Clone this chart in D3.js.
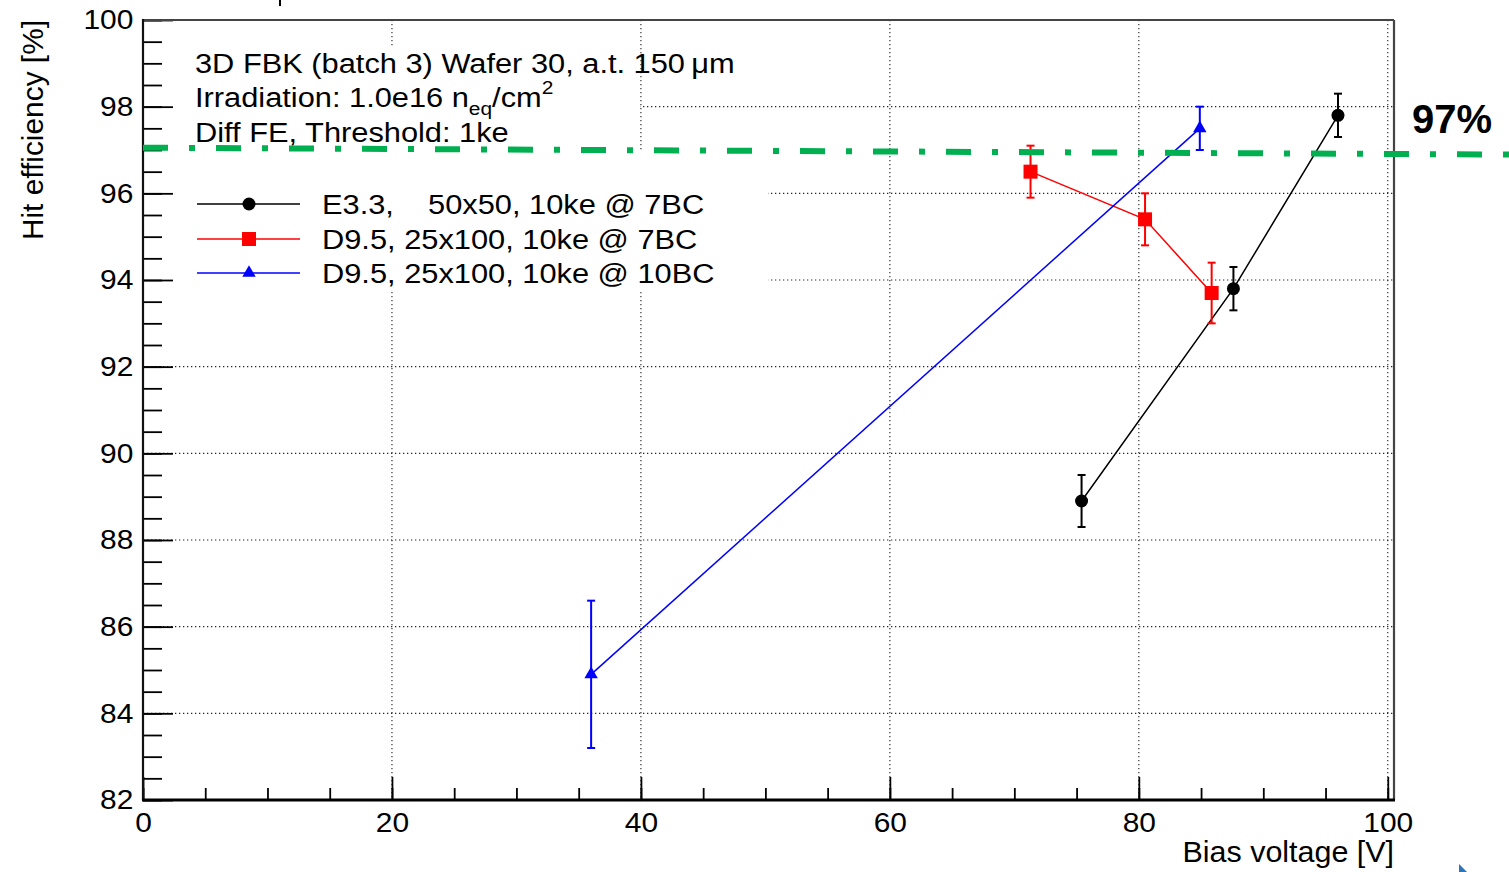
<!DOCTYPE html>
<html>
<head>
<meta charset="utf-8">
<script src="https://cdn.jsdelivr.net/npm/d3@7"></script>
<style>
  html, body { margin: 0; padding: 0; background: #fff; }
  svg { display: block; }
  text { font-family: "Liberation Sans", Arial, Helvetica, sans-serif; fill: #000; }
</style>
</head>
<body>
<svg id="chart" width="1509" height="872"></svg>
<script>
// ---- data: hit efficiency vs bias voltage ----
const biasE33   = [75.4, 87.6, 96.0];
const effE33    = [88.9, 93.8, 97.8];
const errE33    = [0.6, 0.5, 0.5];

const biasD95a  = [71.3, 80.5, 85.85];
const effD95a   = [96.5, 95.4, 93.7];
const errD95a   = [0.6, 0.6, 0.7];

const biasD95b  = [36.0, 84.9];
const effD95b   = [84.9, 97.5];
const errD95b   = [1.7, 0.5];

const seriesLabels = [
  "E3.3,    50x50, 10ke @ 7BC",
  "D9.5, 25x100, 10ke @ 7BC",
  "D9.5, 25x100, 10ke @ 10BC"
];
const xTicks = [0, 20, 40, 60, 80, 100];
const yTicks = [82, 84, 86, 88, 90, 92, 94, 96, 98, 100];
const targetEff = 97;

// ---- layout ----
const svg = d3.select("#chart");
const x = d3.scaleLinear().domain([0, 100.5]).range([143, 1394]);
const y = d3.scaleLinear().domain([82, 100]).range([800, 20]);
const wide = 1.1;   // horizontal stretch of the Helvetica-style lettering

const series = [
  { name: seriesLabels[0], xs: biasE33,  ys: effE33,  es: errE33,  color: "#000000", marker: "circle" },
  { name: seriesLabels[1], xs: biasD95a, ys: effD95a, es: errD95a, color: "#ff0000", marker: "square" },
  { name: seriesLabels[2], xs: biasD95b, ys: effD95b, es: errD95b, color: "#0000ff", marker: "triangle" }
];

// ---- dotted grid ----
const grid = svg.append("g").attr("stroke", "#222").attr("stroke-width", 1.1)
  .attr("stroke-dasharray", "1.3,2.7");
grid.selectAll("line.gx").data(xTicks.filter(d => d > 0)).join("line")
  .attr("x1", d => x(d)).attr("x2", d => x(d))
  .attr("y1", y(100)).attr("y2", y(82));
grid.selectAll("line.gy").data(yTicks.filter(d => d > 82 && d < 100)).join("line")
  .attr("x1", x(0)).attr("x2", x(100.5))
  .attr("y1", d => y(d)).attr("y2", d => y(d));

// white panels behind the caption and the legend
svg.append("rect").attr("x", 144).attr("y", 47).attr("width", 496).attr("height", 104).attr("fill", "#fff");
svg.append("rect").attr("x", 144).attr("y", 150).attr("width", 624).attr("height", 140).attr("fill", "#fff");

// ---- axes ----
const fontTick = 28;
const yMinor = svg.append("g").attr("transform", `translate(${x(0)},0)`)
  .call(d3.axisLeft(y).tickValues(d3.range(82, 100.001, 0.5)).tickSize(-19).tickFormat(""));
const yMajor = svg.append("g").attr("transform", `translate(${x(0)},0)`)
  .call(d3.axisLeft(y).tickValues(yTicks).tickSize(-30).tickPadding(9).tickFormat(d3.format("d")));
const xMinor = svg.append("g").attr("transform", `translate(0,${y(82)})`)
  .call(d3.axisBottom(x).tickValues(d3.range(0, 100.001, 5)).tickSize(-12).tickFormat(""));
const xMajor = svg.append("g").attr("transform", `translate(0,${y(82)})`)
  .call(d3.axisBottom(x).tickValues(xTicks).tickSize(-23).tickPadding(12).tickFormat(d3.format("d")));

[yMinor, yMajor, xMinor, xMajor].forEach(g => {
  g.select(".domain").remove();
  g.selectAll(".tick line").attr("stroke", "#000").attr("stroke-width", 1.8);
  g.selectAll(".tick text").attr("font-size", fontTick)
    .attr("font-family", "'Liberation Sans', Arial, Helvetica, sans-serif").attr("fill", "#000")
    .attr("transform", "scale(1.07,1)");
});

// frame
svg.append("line").attr("x1", x(0)).attr("x2", x(100.5)).attr("y1", y(100)).attr("y2", y(100))
  .attr("stroke", "#444").attr("stroke-width", 2.2);
svg.append("line").attr("x1", x(100.5)).attr("x2", x(100.5)).attr("y1", y(100)).attr("y2", y(82))
  .attr("stroke", "#444").attr("stroke-width", 2.2);
svg.append("line").attr("x1", x(0)).attr("x2", x(0)).attr("y1", y(100) - 1).attr("y2", y(82))
  .attr("stroke", "#111").attr("stroke-width", 2.2);
svg.append("line").attr("x1", x(0) - 1).attr("x2", x(100.5) + 1).attr("y1", y(82)).attr("y2", y(82))
  .attr("stroke", "#000").attr("stroke-width", 3);

// axis titles
svg.append("text").attr("transform", `translate(43,${y(100)}) rotate(-90) scale(1.03,1)`)
  .attr("text-anchor", "end").attr("font-size", 29).text("Hit efficiency [%]");
svg.append("text").attr("transform", `translate(${x(100.5)},862) scale(1.05,1)`)
  .attr("text-anchor", "end").attr("font-size", 29).text("Bias voltage [V]");

// ---- markers ----
function drawMarker(g, kind, color) {
  if (kind === "circle") {
    g.append("circle").attr("r", 6.5).attr("fill", color);
  } else if (kind === "square") {
    g.append("rect").attr("x", -7).attr("y", -7).attr("width", 14).attr("height", 14).attr("fill", color);
  } else {
    g.append("path").attr("d", d3.symbol(d3.symbolTriangle, 78)()).attr("fill", color);
  }
}

// ---- series: connecting line, error bars, markers ----
series.forEach(s => {
  const pts = s.xs.map((v, i) => ({ x: v, y: s.ys[i], e: s.es[i] }));
  const g = svg.append("g");
  g.append("path").datum(pts)
    .attr("d", d3.line().x(d => x(d.x)).y(d => y(d.y)))
    .attr("fill", "none").attr("stroke", s.color).attr("stroke-width", 1.5);
  const eb = g.selectAll("g.err").data(pts).join("g").attr("stroke", s.color).attr("stroke-width", 2);
  eb.append("line").attr("x1", d => x(d.x)).attr("x2", d => x(d.x))
    .attr("y1", d => y(d.y - d.e)).attr("y2", d => y(d.y + d.e));
  eb.append("line").attr("x1", d => x(d.x) - 4).attr("x2", d => x(d.x) + 4)
    .attr("y1", d => y(d.y + d.e)).attr("y2", d => y(d.y + d.e));
  eb.append("line").attr("x1", d => x(d.x) - 4).attr("x2", d => x(d.x) + 4)
    .attr("y1", d => y(d.y - d.e)).attr("y2", d => y(d.y - d.e));
  pts.forEach(p => {
    const m = g.append("g").attr("transform", `translate(${x(p.x)},${y(p.y)})`);
    drawMarker(m, s.marker, s.color);
  });
});

// ---- caption ----
const cap = svg.append("g").attr("font-size", 28)
  .attr("transform", `translate(195,0) scale(${wide},1)`);
cap.append("text").attr("x", 0).attr("y", 73).text("3D FBK (batch 3) Wafer 30, a.t. 150\u2009\u03bcm");
const irr = cap.append("text").attr("x", 0).attr("y", 107);
irr.append("tspan").text("Irradiation: 1.0e16 n");
irr.append("tspan").attr("font-size", 19).attr("dy", 8).text("eq");
irr.append("tspan").attr("dy", -8).text("/cm");
irr.append("tspan").attr("font-size", 19).attr("dy", -13).text("2");
cap.append("text").attr("x", 0).attr("y", 142).text("Diff FE, Threshold: 1ke");

// ---- legend ----
const legendRows = [204, 239, 273];
series.forEach((s, i) => {
  const g = svg.append("g").attr("transform", `translate(0,${legendRows[i]})`);
  g.append("line").attr("x1", 197).attr("x2", 300).attr("y1", 0).attr("y2", 0)
    .attr("stroke", s.color).attr("stroke-width", 1.6);
  const m = g.append("g").attr("transform", "translate(249,0)");
  drawMarker(m, s.marker, s.color);
  g.append("text").attr("transform", `translate(322,10) scale(${wide},1)`).attr("font-size", 28)
    .style("white-space", "pre").attr("xml:space", "preserve").text(s.name);
});

// ---- 97 % target line ----
svg.append("line")
  .attr("x1", x(0)).attr("y1", y(targetEff) - 2.3)
  .attr("x2", 1509).attr("y2", y(targetEff) + 4.6)
  .attr("stroke", "#00b050").attr("stroke-width", 6)
  .attr("stroke-dasharray", "25,21,6,21");
svg.append("text").attr("x", 1412).attr("y", 133)
  .attr("font-family", "'Open Sans', 'Noto Sans', sans-serif")
  .attr("font-weight", 700).attr("font-size", 40).text(targetEff + "%");

// stub of the heading above the frame, and a small corner pointer
svg.append("line").attr("x1", 280).attr("x2", 280).attr("y1", 0).attr("y2", 6)
  .attr("stroke", "#000").attr("stroke-width", 2);
svg.append("path").attr("d", "M1459,864 L1467,872 L1459,872 Z").attr("fill", "#2e75b6");
</script>
</body>
</html>
